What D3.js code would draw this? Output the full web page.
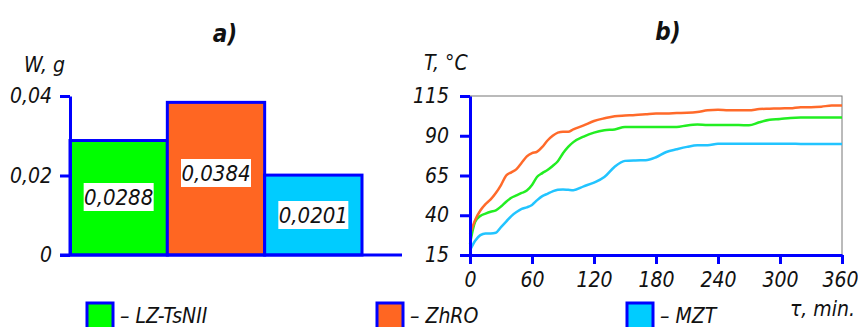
<!DOCTYPE html>
<html>
<head>
<meta charset="utf-8">
<script src="https://cdn.jsdelivr.net/npm/d3@7"></script>
<style>
  body { margin: 0; background: #fff; }
  text { font-family: "DejaVu Sans", sans-serif; font-stretch: condensed; font-style: italic; fill: #111; }
</style>
</head>
<body>
<svg id="chart" width="858" height="327"></svg>
<script>
// bar chart a)
const materials = ["LZ-TsNII", "ZhRO", "MZT"];
const massLoss = [0.0288, 0.0384, 0.0201];
const massLabels = ["0,0288", "0,0384", "0,0201"];
const massTicks = [0, 0.02, 0.04];

// line chart b)
const times = [0, 5, 10, 15, 20, 25, 30, 35, 40, 45, 50, 55, 60, 65, 70, 75, 80, 85, 90, 95, 100,
  110, 120, 130, 140, 150, 160, 170, 180, 190, 200, 210, 220, 230, 240, 250, 260, 270, 280, 290,
  300, 310, 320, 330, 340, 350, 360];
const tempLZ = [22, 36, 39.5, 41, 42.2, 43, 45.5, 48.5, 51, 52.5, 54, 55.5, 59, 64.2, 66.5, 68.5, 71, 74, 79, 83, 86,
  89.5, 92, 93.5, 94, 95.5, 95.5, 95.5, 95.5, 95.5, 95.5, 96.5, 97, 96.7, 96.7, 96.7, 96.7, 96.6, 98.5, 100,
  100.5, 101.2, 101.4, 101.4, 101.4, 101.4, 101.4];
const tempZhRO = [28, 37, 43, 47, 50, 54, 59, 65, 67, 69, 73, 77, 79, 80, 83, 87, 90, 92, 92.5, 92.5, 94,
  96.5, 99.3, 101, 102.3, 102.7, 103, 103.5, 104, 104, 104.3, 104.5, 105, 106, 106.3, 106, 106, 106, 106.8, 107,
  107.2, 107.3, 108, 108, 108.3, 109, 109];
const tempMZT = [18, 24, 27.5, 28.6, 28.6, 29, 32.5, 36, 39.5, 42, 44, 45, 46.5, 49.5, 52, 53.5, 55, 56, 56.2, 56, 55.8,
  58.2, 60.5, 64, 70.5, 74.2, 74.5, 74.6, 76.5, 79.8, 81.5, 83, 84, 84, 85, 85, 85, 85, 85, 85,
  85, 85, 84.8, 84.8, 84.8, 84.8, 84.8];
const tempTicks = [15, 40, 65, 90, 115];
const timeTicks = [0, 60, 120, 180, 240, 300, 360];

const fills = ["#00ff00", "#ff6622", "#00ccff"];
const lineColors = ["#22ee22", "#ff6a2a", "#22c4ff"];
const axisBlue = "#0000ff";

const svg = d3.select("#chart");
const fmt = d => String(d).replace(".", ",");

// ---- a) ----
const xb = d3.scaleBand().domain(materials).range([70, 362]).paddingInner(0);
const yb = d3.scaleLinear().domain([0, 0.04]).range([255, 96]);

const gA = svg.append("g");

gA.selectAll("rect.bar")
  .data(materials)
  .enter().append("rect")
  .attr("class", "bar")
  .attr("x", d => xb(d))
  .attr("y", (d, i) => yb(massLoss[i]))
  .attr("width", xb.bandwidth())
  .attr("height", (d, i) => yb(0) - yb(massLoss[i]))
  .attr("fill", (d, i) => fills[i])
  .attr("stroke", axisBlue)
  .attr("stroke-width", 3);

const yAxisA = gA.append("g")
  .attr("transform", "translate(70,0)")
  .call(d3.axisLeft(yb).tickValues(massTicks).tickSize(10).tickSizeOuter(0).tickPadding(8).tickFormat(d => d === 0 ? "0" : fmt(d)));
yAxisA.selectAll("line, path").attr("stroke", axisBlue).attr("stroke-width", 3);
yAxisA.selectAll("text").attr("font-size", 21);

gA.append("line")
  .attr("x1", 60).attr("x2", 402)
  .attr("y1", yb(0)).attr("y2", yb(0))
  .attr("stroke", axisBlue).attr("stroke-width", 3);

// value labels in white boxes
const labelY = [197, 173, 215];
materials.forEach((m, i) => {
  const cx = xb(m) + xb.bandwidth() / 2;
  gA.append("rect")
    .attr("x", cx - 35).attr("y", labelY[i] - 14)
    .attr("width", 70).attr("height", 28)
    .attr("fill", "#fff");
  gA.append("text")
    .attr("x", cx).attr("y", labelY[i])
    .attr("text-anchor", "middle").attr("dy", "0.35em")
    .attr("font-size", 22)
    .text(massLabels[i]);
});

gA.append("text").attr("x", 225).attr("y", 42).attr("text-anchor", "middle")
  .attr("font-size", 24).attr("font-weight", "bold").text("a)");
gA.append("text").attr("x", 24).attr("y", 72).attr("font-size", 21).text("W, g");

// ---- b) ----
const xl = d3.scaleLinear().domain([0, 360]).range([470, 842]);
const yl = d3.scaleLinear().domain([15, 115]).range([255, 96]);

const gB = svg.append("g");

gB.append("rect")
  .attr("x", xl(0)).attr("y", yl(115))
  .attr("width", xl(360) - xl(0)).attr("height", yl(15) - yl(115))
  .attr("fill", "none").attr("stroke", "#777").attr("stroke-width", 1);

const line = d3.line()
  .x((d, i) => xl(times[i]))
  .y(d => yl(d))
  .curve(d3.curveMonotoneX);

[tempLZ, tempZhRO, tempMZT].forEach((s, i) => {
  gB.append("path")
    .attr("d", line(s))
    .attr("fill", "none")
    .attr("stroke", lineColors[i])
    .attr("stroke-width", 2.5);
});

const yAxisB = gB.append("g")
  .attr("transform", "translate(470,0)")
  .call(d3.axisLeft(yl).tickValues(tempTicks).tickSize(10).tickSizeOuter(0).tickPadding(11));
const xAxisB = gB.append("g")
  .attr("transform", "translate(0,255)")
  .call(d3.axisBottom(xl).tickValues(timeTicks).tickSize(9).tickSizeOuter(0).tickPadding(8));
[yAxisB, xAxisB].forEach(a => {
  a.selectAll("line, path").attr("stroke", axisBlue).attr("stroke-width", 3);
  a.selectAll("text").attr("font-size", 21);
});
// last label sits at the page edge
xAxisB.selectAll(".tick text").filter(d => d === 360).attr("dx", -2);

gB.append("text").attr("x", 668).attr("y", 40).attr("text-anchor", "middle")
  .attr("font-size", 24).attr("font-weight", "bold").text("b)");
gB.append("text").attr("x", 424).attr("y", 70).attr("font-size", 21).text("T, °C");
gB.append("text").attr("x", 790).attr("y", 316).attr("font-size", 21).text("τ, min.");

// ---- legend ----
const legendX = [87, 377, 627];
materials.forEach((m, i) => {
  svg.append("rect")
    .attr("x", legendX[i]).attr("y", 303)
    .attr("width", 26).attr("height", 30)
    .attr("fill", fills[i]).attr("stroke", axisBlue).attr("stroke-width", 3);
  svg.append("text")
    .attr("x", legendX[i] + 33).attr("y", 323)
    .attr("font-size", 21)
    .text("– " + m);
});
</script>
</body>
</html>
